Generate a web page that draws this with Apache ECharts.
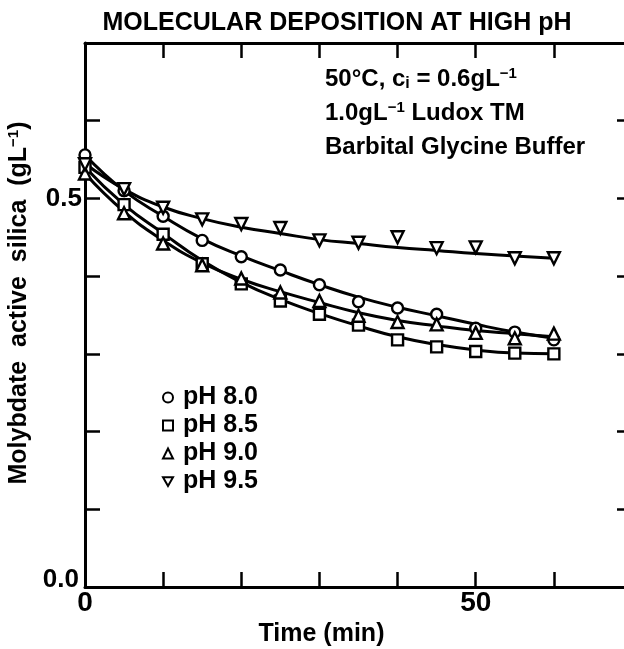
<!DOCTYPE html>
<html>
<head>
<meta charset="utf-8">
<script src="https://cdn.jsdelivr.net/npm/echarts@6/dist/echarts.min.js"></script>
<style>html,body{margin:0;padding:0;background:#fff}#c{width:624px;height:649px}</style>
</head>
<body>
<div id="c"></div>
<script>
// ---- data ----
const time = [0, 5, 10, 15, 20, 25, 30, 35, 40, 45, 50, 55, 60];
// measured points
const ph80 = [0.556, 0.510, 0.477, 0.446, 0.425, 0.408, 0.389, 0.367, 0.359, 0.351, 0.333, 0.328, 0.318];
const ph85 = [0.540, 0.492, 0.454, 0.416, 0.390, 0.368, 0.351, 0.337, 0.318, 0.309, 0.303, 0.301, 0.300];
const ph90 = [0.532, 0.481, 0.442, 0.414, 0.397, 0.379, 0.368, 0.349, 0.341, 0.338, 0.327, 0.320, 0.326];
const ph95 = [0.544, 0.512, 0.488, 0.473, 0.467, 0.462, 0.446, 0.443, 0.450, 0.436, 0.437, 0.423, 0.423];
// hand-drawn smooth curves through each set
const curve80 = [0.556, 0.510, 0.477, 0.448, 0.426, 0.407, 0.389, 0.373, 0.360, 0.349, 0.338, 0.328, 0.320];
const curve85 = [0.540, 0.492, 0.455, 0.420, 0.392, 0.370, 0.352, 0.336, 0.322, 0.312, 0.305, 0.301, 0.300];
const curve90 = [0.532, 0.483, 0.446, 0.417, 0.396, 0.380, 0.366, 0.353, 0.343, 0.336, 0.330, 0.326, 0.322];
const curve95 = [0.545, 0.512, 0.489, 0.474, 0.463, 0.455, 0.447, 0.442, 0.437, 0.433, 0.429, 0.426, 0.423];
const seriesNames = ['pH 8.0', 'pH 8.5', 'pH 9.0', 'pH 9.5'];
const xTickLabels = [0, 50];
const yTickLabels = [0, 0.5];
const titleText = 'MOLECULAR DEPOSITION AT HIGH pH';
const xName = 'Time (min)';
const yName = 'Molybdate  active  silica  (gL{sup|\u22121})';
const noteLines = ['50\u00B0C, c{sub|i} = 0.6gL{sup|\u22121}', '1.0gL{sup|\u22121} Ludox TM', 'Barbital Glycine Buffer'];

const FONT = '"Liberation Sans", Arial, sans-serif';
const DOWN_TRI = 'path://M0,0L2,0L1,1.75Z';
const symbols = ['circle', 'rect', 'triangle', DOWN_TRI];
const symSizes = [11, 11, 12, 12];
const pts = [ph80, ph85, ph90, ph95];
const curves = [curve80, curve85, curve90, curve95];

const pair = arr => time.map((t, i) => [t, arr[i]]);

const series = [];
curves.forEach((c, k) => {
  series.push({
    type: 'line', data: pair(c), smooth: 0.5, showSymbol: false, silent: true,
    lineStyle: {color: '#000', width: 3}, z: 2
  });
});
pts.forEach((p, k) => {
  series.push({
    name: seriesNames[k], type: 'scatter', data: pair(p), symbol: symbols[k], symbolSize: symSizes[k],
    itemStyle: {color: '#fff', borderColor: '#000', borderWidth: 2.4, opacity: 1}, z: 3
  });
});

const axisLineStyle = {onZero: false, lineStyle: {color: '#000', width: 3}};
const tickStyle = {show: true, inside: true, length: 15, lineStyle: {color: '#000', width: 2.5}};

const chart = echarts.init(document.getElementById('c'), null, {renderer: 'canvas'});
chart.setOption({
  backgroundColor: '#fff',
  animation: false,
  textStyle: {fontFamily: FONT},
  title: {
    text: titleText, left: 332, top: 6, textAlign: 'center',
    textStyle: {fontFamily: FONT, fontSize: 25, fontWeight: 'bold', color: '#000'}
  },
  grid: {left: 85, right: -8, top: 43, bottom: 62, containLabel: false, outerBoundsMode: 'none'},
  legend: {
    data: seriesNames.map(n => ({name: n})),
    orient: 'vertical', left: 157, top: 380, itemGap: 3, itemWidth: 10, itemHeight: 10,
    textStyle: {fontFamily: FONT, fontSize: 25, fontWeight: 'bold', color: '#000', lineHeight: 25, padding: [0, 0, 0, 5]},
    selectedMode: false
  },
  xAxis: [{
    type: 'value', min: 0, max: 70, interval: 10, position: 'bottom',
    axisLine: axisLineStyle, axisTick: tickStyle, splitLine: {show: false},
    axisLabel: {
      margin: 2, fontFamily: FONT, fontSize: 28, fontWeight: 'bold', color: '#000', showMaxLabel: false,
      formatter: v => xTickLabels.indexOf(v) >= 0 ? String(v) : ''
    },
    name: xName, nameLocation: 'middle', nameGap: 35,
    nameTextStyle: {fontFamily: FONT, fontSize: 25, fontWeight: 'bold', color: '#000', padding: [0, 74, 0, 0]}
  }, {
    type: 'value', min: 0, max: 70, interval: 10, position: 'top',
    axisLine: axisLineStyle, axisTick: tickStyle, axisLabel: {show: false}, splitLine: {show: false}
  }],
  yAxis: [{
    type: 'value', min: 0, max: 0.7, interval: 0.1, position: 'left',
    axisLine: axisLineStyle, axisTick: tickStyle, splitLine: {show: false},
    axisLabel: {
      margin: 3, fontFamily: FONT, fontSize: 26, fontWeight: 'bold', color: '#000', showMaxLabel: false,
      formatter: v => {
        if (Math.abs(v) < 1e-9) return '{z|' + v.toFixed(1) + '}';
        return yTickLabels.some(t => Math.abs(t - v) < 1e-9) ? v.toFixed(1) : '';
      },
      rich: {z: {fontFamily: FONT, fontSize: 26, fontWeight: 'bold', color: '#000', padding: [0, 3, 14, 0]}}
    },
    name: yName, nameLocation: 'middle', nameGap: 42, nameRotate: 90,
    nameTextStyle: {
      fontFamily: FONT, fontSize: 25, fontWeight: 'bold', color: '#000', padding: [0, 0, 0, 24],
      rich: {sup: {fontFamily: FONT, fontSize: 15, fontWeight: 'bold', color: '#000', padding: [0, 0, 12, 0]}}
    }
  }, {
    type: 'value', min: 0, max: 0.7, interval: 0.1, position: 'right',
    axisLine: axisLineStyle, axisTick: tickStyle, axisLabel: {show: false}, splitLine: {show: false}
  }],
  graphic: noteLines.map((txt, i) => ({
    type: 'text', left: 325, top: [66, 100, 135][i], z: 10,
    style: {
      text: txt, fill: '#000', font: 'bold 24px ' + FONT,
      rich: {
        sup: {fontFamily: FONT, fontSize: 15, fontWeight: 'bold', fill: '#000', padding: [0, 0, 11, 0]},
        sub: {fontFamily: FONT, fontSize: 16, fontWeight: 'bold', fill: '#000', padding: [9, 0, 0, 0]}
      }
    }
  })),
  series: series
});
</script>
</body>
</html>
